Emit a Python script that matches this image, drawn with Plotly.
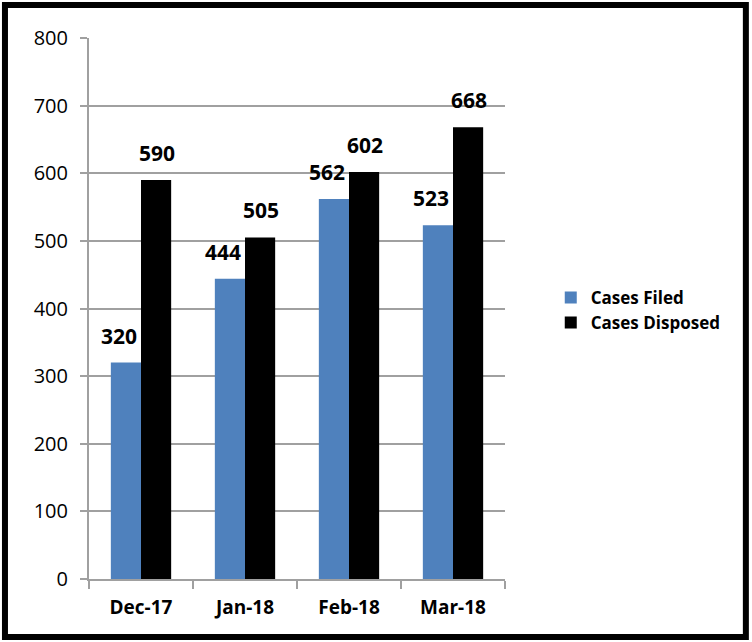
import plotly.graph_objects as go

months = ["Dec-17", "Jan-18", "Feb-18", "Mar-18"]
cases_filed = [320, 444, 562, 523]
cases_disposed = [590, 505, 602, 668]
y_ticks = [0, 100, 200, 300, 400, 500, 600, 700, 800]

FONT = "Open Sans, sans-serif"
GRID = "#a0a0a0"

fig = go.Figure()
fig.add_trace(go.Bar(name="<b>Cases Filed</b>", x=months, y=cases_filed,
                     marker_color="#4F81BD", marker_line_width=0))
fig.add_trace(go.Bar(name="<b>Cases Disposed</b>", x=months, y=cases_disposed,
                     marker_color="#000000", marker_line_width=0))

for series, shift in ((cases_filed, -22), (cases_disposed, 16)):
    for m, v in zip(months, series):
        fig.add_annotation(x=m, y=v, text=f"<b>{v}</b>", showarrow=False,
                           xshift=shift, yshift=27, font=dict(family=FONT, size=21, color="#000"))

fig.update_layout(
    width=752, height=642,
    margin=dict(l=89, r=247, t=38, b=63, autoexpand=False),
    paper_bgcolor="white", plot_bgcolor="white",
    barmode="group", bargap=0.42, bargroupgap=0,
    font=dict(family=FONT, color="#000"),
    showlegend=True,
    legend=dict(x=1.11, y=0.553, xanchor="left", yanchor="top",
                font=dict(family=FONT, size=17, color="#000"),
                itemwidth=30, tracegroupgap=3, bgcolor="rgba(0,0,0,0)"),
    xaxis=dict(showline=True, linecolor=GRID, linewidth=2, ticks="outside",
               tickson="boundaries", ticklen=8, tickcolor=GRID, tickwidth=2,
               ticklabelstandoff=10,
               tickfont=dict(family=FONT, size=19, color="#000"),
               tickprefix="<b>", ticksuffix="</b>", showgrid=False),
    yaxis=dict(range=[0, 800], tickvals=y_ticks, showline=True, linecolor=GRID, linewidth=2,
               ticks="outside", ticklen=7, tickcolor=GRID, tickwidth=2,
               ticklabelstandoff=8,
               showgrid=True, gridcolor=GRID, gridwidth=2, zeroline=False,
               tickfont=dict(family=FONT, size=20, color="#000")),
)

fig.add_shape(type="rect", xref="paper", yref="paper",
              x0=-0.202, x1=1.579, y0=-0.107, y1=1.061,
              line=dict(color="black", width=6), fillcolor="rgba(0,0,0,0)", layer="above")

fig.write_html("out.html", config={"displayModeBar": False},
               post_script="document.body.style.margin='0';document.body.style.padding='0';")
